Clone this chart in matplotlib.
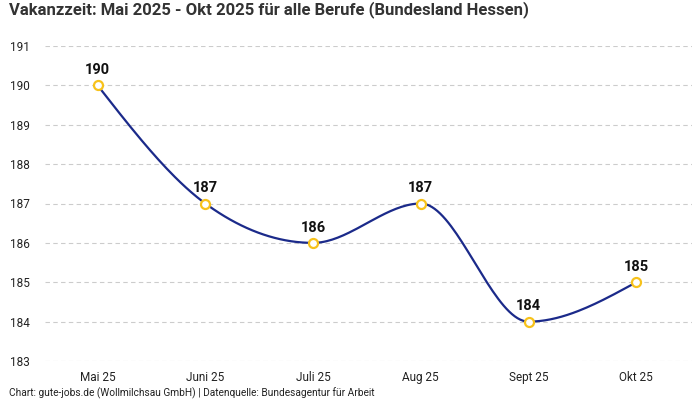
import numpy as np
import matplotlib
matplotlib.use("Agg")
import matplotlib.pyplot as plt

months = ["Mai 25", "Juni 25", "Juli 25", "Aug 25", "Sept 25", "Okt 25"]
vakanz = [190, 187, 186, 187, 184, 185]
y_ticks = [183, 184, 185, 186, 187, 188, 189, 190, 191]

TITLE = "Vakanzzeit: Mai 2025 - Okt 2025 für alle Berufe (Bundesland Hessen)"
FOOTER = "Chart: gute-jobs.de (Wollmilchsau GmbH) | Datenquelle: Bundesagentur für Arbeit"

plt.rcParams["font.family"] = ["Roboto", "DejaVu Sans"]


def monotone_path(x, y, n=40):
    """Kurve wie d3.curveMonotoneX (Bezier-Segmente)."""
    x = np.asarray(x, float); y = np.asarray(y, float)
    h = np.diff(x); s = np.diff(y) / h
    t = np.zeros(len(x))
    for i in range(1, len(x) - 1):
        p = (s[i-1] * h[i] + s[i] * h[i-1]) / (h[i-1] + h[i])
        t[i] = (np.sign(s[i-1]) + np.sign(s[i])) * min(abs(s[i-1]), abs(s[i]), 0.5 * abs(p))
    t[0] = (3 * s[0] - t[1]) / 2
    t[-1] = (3 * s[-1] - t[-2]) / 2
    xs, ys = [], []
    u = np.linspace(0, 1, n)
    for i in range(len(x) - 1):
        dx = h[i] / 3
        p0 = (x[i], y[i]); p1 = (x[i] + dx, y[i] + dx * t[i])
        p2 = (x[i+1] - dx, y[i+1] - dx * t[i+1]); p3 = (x[i+1], y[i+1])
        b = [(1-u)**3, 3*(1-u)**2*u, 3*(1-u)*u**2, u**3]
        xs.extend(sum(bb * pp[0] for bb, pp in zip(b, (p0, p1, p2, p3))))
        ys.extend(sum(bb * pp[1] for bb, pp in zip(b, (p0, p1, p2, p3))))
    return xs, ys


fig = plt.figure(figsize=(7, 4), dpi=100)
ax = fig.add_axes([0.064, 0.0975, 0.925, 0.7875])

xpos = np.arange(len(months))
cx, cy = monotone_path(xpos, vakanz)
ax.plot(cx, cy, color="#1b2a8a", lw=1.6, zorder=3, clip_on=False)
ax.plot(xpos, vakanz, "o", ms=6.5, mfc="white", mec="#f7c21b", mew=1.6, zorder=4, clip_on=False)
for xi, v in zip(xpos, vakanz):
    ax.annotate(str(v), (xi, v), xytext=(0, 6), textcoords="offset points",
                ha="center", va="bottom", fontsize=10.5, fontweight="bold", color="#111111")

ax.set_xlim(-0.49, 5.52)
ax.set_ylim(183, 191)
ax.set_yticks(y_ticks)
ax.set_xticks(xpos)
ax.set_xticklabels(months)
ax.grid(axis="y", color="#cccccc", ls=(0, (4, 3)), lw=0.8)
ax.set_axisbelow(True)
for sp in ax.spines.values():
    sp.set_visible(False)
ax.tick_params(length=0, labelsize=8.5, colors="#222222")
ax.tick_params(axis="y", pad=11)
ax.tick_params(axis="x", pad=7)

fig.text(0.013, 0.977, TITLE, ha="left", va="center", fontsize=12, fontweight="bold", color="#333333")
fig.text(0.013, 0.017, FOOTER, ha="left", va="center", fontsize=7.3, color="#222222")

fig.savefig("out.png", dpi=100)
